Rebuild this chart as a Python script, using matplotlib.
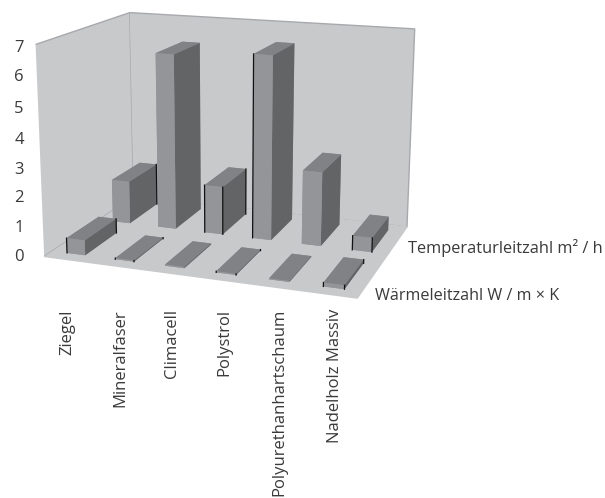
import numpy as np
import matplotlib
matplotlib.use("Agg")
import matplotlib.pyplot as plt

# Werte
categories = ["Ziegel", "Mineralfaser", "Climacell", "Polystrol", "Polyurethanhartschaum", "Nadelholz Massiv"]
waerme = [0.52, 0.04, 0.04, 0.04, 0.03, 0.13]
temperatur = [1.55, 6.25, 1.72, 6.45, 2.6, 0.5]
z_ticks = [0, 1, 2, 3, 4, 5, 6, 7]
label_waerme = "Wärmeleitzahl W / m × K"
label_temperatur = "Temperaturleitzahl m² / h"

WALL = "#c8c9cb"
EDGE = "#a7a9ac"
FRONT = "#939598"
TOP = "#808285"
SIDE = "#636466"
TEXT = "#3a3a3a"
W, H = 605, 498

plt.rcParams["font.family"] = ["Open Sans", "DejaVu Sans"]
fig = plt.figure(figsize=(W / 100, H / 100), dpi=100)
ax = fig.add_axes([-77.12 / W, 101.23 / H, 1, 1], projection="3d")
ax.set_xlim(0, 6, view_margin=0)
ax.set_ylim(0, 2, view_margin=0)
ax.set_zlim(0, 7.1, view_margin=0)
ax.view_init(14.62, -70.07, -0.05)
ax.set_proj_type("persp", focal_length=0.4528)
ax.set_box_aspect((1.4975, 1.0037, 1), zoom=0.8503)

# Waende und Boden
for axis in (ax.xaxis, ax.yaxis, ax.zaxis):
    axis.set_pane_color(WALL)
    axis.pane.set_edgecolor(EDGE)
    axis.pane.set_linewidth(1.0)
    axis.line.set_color((1, 1, 1, 0))
    axis.set_ticks([])
ax.zaxis.pane.set_edgecolor(WALL)
ax.grid(False)
ax.patch.set_alpha(0)

# Saeulen: eine Reihe vorne, eine hinten
bar_w, bar_d = 0.38, 0.68
faces = [FRONT, TOP, FRONT, FRONT, FRONT, SIDE]  # -z +z -y +y -x +x
for row, values in enumerate([waerme, temperatur]):
    for i, v in enumerate(values):
        ax.bar3d(i + 0.5 - bar_w / 2, row + 0.5 - bar_d / 2, 0, bar_w, bar_d, v,
                 color=faces, shade=False, zsort="max")

# schwarze Kanten wie im Original (vl = vorne links, vr = vorne rechts, hr = hinten rechts)
black_edges = {
    (0, 0): ["vl", "hr"], (0, 1): ["vl", "vr", "hr"], (0, 3): ["vl", "vr", "hr"], (0, 5): ["vl", "vr", "hr"],
    (1, 0): ["hr"], (1, 2): ["vl", "vr", "hr"], (1, 3): ["vl"], (1, 5): ["vl", "vr"],
}
for (row, i), edges in black_edges.items():
    v = [waerme, temperatur][row][i]
    x0, x1 = i + 0.5 - bar_w / 2, i + 0.5 + bar_w / 2
    y0, y1 = row + 0.5 - bar_d / 2, row + 0.5 + bar_d / 2
    corner = {"vl": (x0, y0), "vr": (x1, y0), "hr": (x1, y1)}
    for e in edges:
        cx, cy = corner[e]
        line = ax.plot([cx, cx], [cy, cy], [0, v], color="#111111", lw=0.9, solid_capstyle="projecting")[0]
        line.set_zorder(1000)

# Beschriftung
tick_y = [257, 228, 198, 170, 140, 109, 77, 48]
for y, z in zip(tick_y, z_ticks):
    fig.text(19 / W, 1 - y / H, str(z), ha="center", va="center", fontsize=12, color=TEXT)
cat_x = [67, 120, 172, 224, 279, 335]
for x, name in zip(cat_x, categories):
    fig.text(x / W, 1 - 309 / H, name, rotation=90, ha="center", va="top", fontsize=12, color=TEXT)
fig.text(408 / W, 1 - 248 / H, label_temperatur, ha="left", va="center", fontsize=11.8, color=TEXT)
fig.text(375 / W, 1 - 296 / H, label_waerme, ha="left", va="center", fontsize=11.6, color=TEXT)

fig.savefig("out.png", dpi=100, facecolor="white")
